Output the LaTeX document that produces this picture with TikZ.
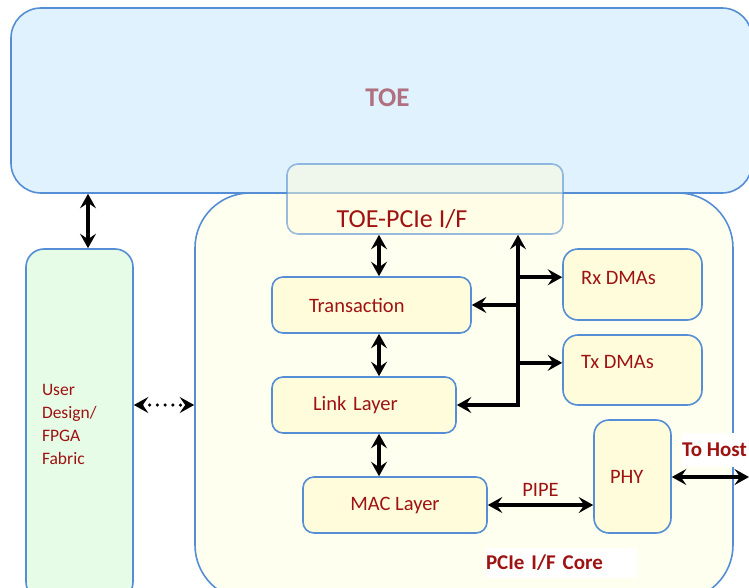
\documentclass[tikz,border=0pt]{standalone}
\usepackage{fontspec}
\setmainfont{Carlito}
\usetikzlibrary{arrows.meta,calc}
\definecolor{myblue}{RGB}{85,142,213}
\definecolor{mydarkred}{RGB}{158,18,18}
\definecolor{mymauve}{RGB}{176,112,128}
\definecolor{mytoefill}{RGB}{224,242,254}
\definecolor{mycorefill}{RGB}{255,255,240}
\definecolor{myboxfill}{RGB}{255,252,220}
\definecolor{myuserfill}{RGB}{230,252,230}
\newcommand{\heightlayer}{56pt}
\newcommand{\widthlayer}{184pt}
\newcommand{\widthdma}{139pt}
\tikzset{
    txt/.style={text=mydarkred, font=\fontsize{20.5}{24}\selectfont},
    boldtxt/.style={txt, font=\bfseries\fontsize{21}{25}\selectfont},
    common/.style={txt, draw=myblue, line width=1.6pt, rectangle, inner sep=0pt},
    layer/.style={common, fill=myboxfill, rounded corners=11pt, minimum height=\heightlayer},
    dma/.style={common, fill=myboxfill, rounded corners=15pt, minimum width=\widthdma},
    conn/.style={draw=black, line width=3.5pt}
}

\begin{document}
\begin{tikzpicture}[x=1pt, y=-1pt, >={Stealth[length=14.5pt,width=16pt,inset=5.5pt]}]
    \useasboundingbox (0,0) rectangle (749,588);
    \clip (0,0) rectangle (749,588);

    % outer blocks
    \node[common, fill=mytoefill, rounded corners=30pt, minimum width=741pt, minimum height=185pt,
        label={[text=mymauve, font=\bfseries\fontsize{27}{32}\selectfont, xshift=6pt, yshift=3pt]center:TOE}] (TOE) at (381.5,100.5) {};
    \node[common, fill=mycorefill, rounded corners=55pt, minimum width=538pt, minimum height=407pt] (Core) at (464,396.5) {};
    \node[common, fill=myuserfill, rounded corners=18pt, minimum width=107pt, minimum height=351pt,
        text width=75pt, align=left, font=\fontsize{17.5}{23}\selectfont] (User) at (79.5,424.5) {User\\Design/\\FPGA\\Fabric};

    % core blocks
    \node[layer, minimum width=199pt, text width=125pt, align=left] (Transaction) at (371.5,305) {Transaction};
    \node[layer, minimum width=\widthlayer, text width=102pt, align=left] (LinkLayer) at (364,405) {Link Layer};
    \node[layer, minimum width=\widthlayer] (MACLayer) at (395,505) {MAC Layer};
    \node[dma, minimum width=77pt, minimum height=113pt, text width=45pt, align=left] (PHY) at (632.5,476.5) {PHY};
    \node[dma, minimum height=71pt, label={[txt, xshift=-14pt, yshift=7pt]center:Rx DMAs}] (Rx) at (632.5,284.5) {};
    \node[dma, minimum height=70pt, label={[txt, xshift=-15pt, yshift=8pt]center:Tx DMAs}] (Tx) at (632.5,370) {};
    \node[common, fill=myboxfill, fill opacity=0.5, draw opacity=0.6, rounded corners=11pt,
        minimum width=276pt, minimum height=70pt,
        label={[txt, text opacity=1, font=\fontsize{26}{30}\selectfont, xshift=-23pt, yshift=-20pt]center:TOE-PCIe I/F}] (IFace) at (425,199) {};

    \node[boldtxt, fill=white, inner sep=0pt, text width=151pt, align=left, minimum height=30pt] (CoreName) at (561.5,563) {PCIe I/F Core};
    \node[boldtxt, fill=white, inner xsep=1pt, inner ysep=0pt, minimum height=34pt, anchor=west] (HostName) at (681,450) {To Host};

    % connectors
    \coordinate (stack) at (379,0);
    \coordinate (bus) at (518,0);
    \coordinate (side) at (88,0);
    \coordinate (dots) at (0,405);
    \coordinate (host) at (749,477);
    \coordinate (rxin) at ($(Rx.north west)!0.4!(Rx.south west)$);
    \coordinate (txin) at ($(Tx.north west)!0.4!(Tx.south west)$);

    \draw[conn, <->] (TOE.south -| side) -- (User.north -| side);
    \draw[conn, <->, dash pattern=on 0pt off 7.7pt, line cap=round] (User.east |- dots) -- (Core.west |- dots);
    \draw[conn, <->] (IFace.south -| stack) -- (Transaction.north -| stack);
    \draw[conn, <->] (Transaction.south -| stack) -- (LinkLayer.north -| stack);
    \draw[conn, <->] (LinkLayer.south -| stack) -- (MACLayer.north -| stack);
    \draw[conn, <->] (LinkLayer.east) -| (IFace.south -| bus);
    \draw[conn, ->] (Transaction.east -| bus) -- (Transaction.east);
    \draw[conn, ->] (rxin -| bus) -- (rxin);
    \draw[conn, ->] (txin -| bus) -- (txin);
    \draw[conn, <->] (MACLayer.east) -- node[txt, above=3pt] (pipe) {PIPE} (MACLayer.east -| PHY.west);
    \draw[conn, <->] (PHY.east |- host) -- (host);
\end{tikzpicture}
\end{document}
